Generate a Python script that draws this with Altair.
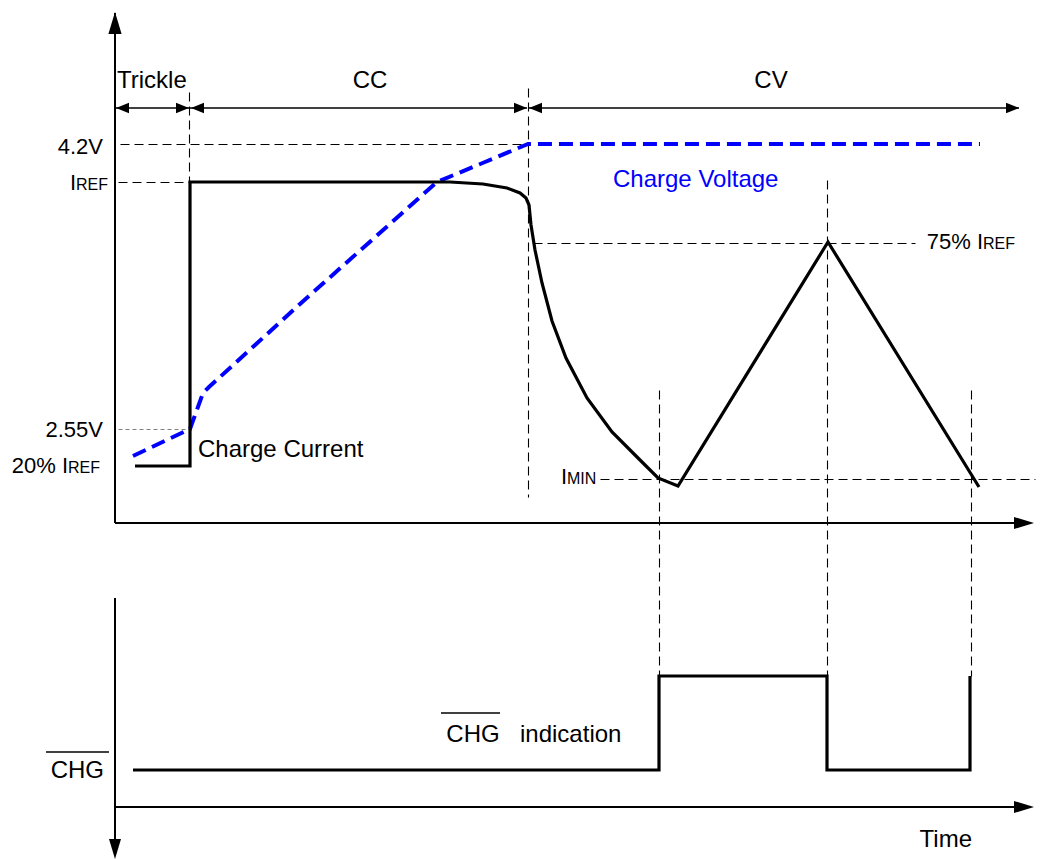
import altair as alt
import pandas as pd

FONT = "Liberation Sans"

# Diagram coordinate frame (units = reference pixels)
X_DOMAIN = [8, 1041]
Y_DOMAIN = [8, 851]

# Charge current (black solid)
cur_x = [135, 190, 190, 450, 483, 507, 520, 526, 529, 531, 535, 542, 552, 566, 587, 612, 640, 658, 678, 828, 979]
cur_y = [466, 466, 182, 182, 184, 188, 193, 198, 205, 225, 250, 283, 321, 358, 398, 432, 460, 478, 486, 242, 487]

# Charge voltage (blue dashed)
volt_x = [133, 190, 203, 209, 300, 437, 485, 528, 980]
volt_y = [456, 429, 393, 387, 304, 182, 162, 144, 144]

# CHG indication (black solid)
chg_x = [133, 659, 659, 827, 827, 970, 970]
chg_y = [770, 770, 676, 676, 770, 770, 676]

# Solid axis / phase lines: x1, y1, x2, y2, width
solid_x1 = [115, 115, 115, 115, 115, 190, 529, 46, 441]
solid_y1 = [13, 523, 598, 807, 108, 108, 108, 752, 713]
solid_x2 = [115, 1020, 115, 1020, 189, 527, 1019, 109, 500]
solid_y2 = [523, 523, 845, 807, 108, 108, 108, 752, 713]
solid_w = [2, 2, 2, 2, 1.5, 1.5, 1.5, 1.3, 1.3]

# Dashed guide lines (black)
dash_x1 = [120, 118, 533, 600, 189, 528, 659, 827, 971]
dash_y1 = [144, 182, 243, 479, 92, 88, 390, 180, 390]
dash_x2 = [528, 189, 915, 1035, 189, 528, 659, 827, 971]
dash_y2 = [144, 182, 243, 479, 182, 497, 676, 676, 676]

# Dashed guide (grey, 2.55V)
gdash_x1 = [118]
gdash_y1 = [429]
gdash_x2 = [189]
gdash_y2 = [429]

# Arrow heads
ARROW_R = "M0,0L-1,-0.4L-1,0.4Z"
ARROW_L = "M0,0L1,-0.4L1,0.4Z"
AXIS_R = "M0,0L-1,-0.3L-1,0.3Z"
AXIS_U = "M0,0L-0.3,1L0.3,1Z"
AXIS_D = "M0,0L-0.3,-1L0.3,-1Z"
arrow_x = [189, 527, 1019, 116, 191, 529, 1034, 1034, 115, 115]
arrow_y = [108, 108, 108, 108, 108, 108, 523, 807, 12, 859]
arrow_shape = [ARROW_R, ARROW_R, ARROW_R, ARROW_L, ARROW_L, ARROW_L, AXIS_R, AXIS_R, AXIS_U, AXIS_D]
arrow_size = [676, 676, 676, 676, 676, 676, 1600, 1600, 1936, 1600]

# Text labels
left_text = ["Trickle", "Charge Current", "Charge Voltage", "REF", "REF", "MIN", "REF", "indication"]
left_x = [117, 198, 613, 76, 68, 567, 983, 520]
left_y = [88, 457, 187, 190, 473, 484, 249, 742]
left_size = [24, 24, 24, 16, 16, 16, 16, 24]
left_color = ["black", "black", "#0000ff", "black", "black", "black", "black", "black"]

right_text = ["4.2V", "I", "2.55V", "20% I", "I", "75% I", "Time", "CHG"]
right_x = [103, 76, 103, 68, 567, 983, 972, 104]
right_y = [154, 190, 437, 473, 484, 249, 847, 778]
right_size = [22, 22, 22, 22, 22, 22, 24, 24]

center_text = ["CC", "CV", "CHG", "Figure 3. Typical Charge Profile"]
center_x = [370, 771, 473, 547]
center_y = [88, 88, 742, 873]
center_size = [24, 24, 24, 17]

xs = alt.Scale(domain=X_DOMAIN, nice=False, zero=False)
ys = alt.Scale(domain=Y_DOMAIN, nice=False, zero=False, reverse=True)


def X(f="x"):
    return alt.X(f"{f}:Q", scale=xs, axis=None)


def Y(f="y"):
    return alt.Y(f"{f}:Q", scale=ys, axis=None)


def path_df(xv, yv):
    return pd.DataFrame({"x": xv, "y": yv, "i": list(range(len(xv)))})


solid = pd.DataFrame({"x": solid_x1, "y": solid_y1, "x2": solid_x2, "y2": solid_y2, "w": solid_w})
dashed = pd.DataFrame({"x": dash_x1, "y": dash_y1, "x2": dash_x2, "y2": dash_y2})
gdashed = pd.DataFrame({"x": gdash_x1, "y": gdash_y1, "x2": gdash_x2, "y2": gdash_y2})
arrows = pd.DataFrame({"x": arrow_x, "y": arrow_y, "shape": arrow_shape, "size": arrow_size})
ltxt = pd.DataFrame({"x": left_x, "y": left_y, "t": left_text, "s": left_size, "c": left_color})
rtxt = pd.DataFrame({"x": right_x, "y": right_y, "t": right_text, "s": right_size})
ctxt = pd.DataFrame({"x": center_x, "y": center_y, "t": center_text, "s": center_size})

# half-pixel shift so that 1px dashed guides render crisp
crisp = dict(cx="datum.x + 0.5", cy="datum.y + 0.5", cx2="datum.x2 + 0.5", cy2="datum.y2 + 0.5")

solid_layer = alt.Chart(solid).mark_rule(color="black").encode(
    x=X(), y=Y(), x2="x2:Q", y2="y2:Q", strokeWidth=alt.StrokeWidth("w:Q", scale=None)
)
dash_layer = alt.Chart(dashed).transform_calculate(**crisp).mark_rule(
    color="black", strokeWidth=1.1, strokeDash=[9, 5]
).encode(x=X("cx"), y=Y("cy"), x2="cx2:Q", y2="cy2:Q")
gdash_layer = alt.Chart(gdashed).transform_calculate(**crisp).mark_rule(
    color="#808080", strokeWidth=1, strokeDash=[4, 3]
).encode(x=X("cx"), y=Y("cy"), x2="cx2:Q", y2="cy2:Q")
volt_layer = alt.Chart(path_df(volt_x, volt_y)).mark_line(
    color="#0000ff", strokeWidth=4, strokeDash=[14, 7]
).encode(x=X(), y=Y(), order="i:Q")
cur_layer = alt.Chart(path_df(cur_x, cur_y)).mark_line(
    color="black", strokeWidth=3.2, strokeJoin="miter"
).encode(x=X(), y=Y(), order="i:Q")
chg_layer = alt.Chart(path_df(chg_x, chg_y)).mark_line(
    color="black", strokeWidth=3.2, strokeJoin="miter"
).encode(x=X(), y=Y(), order="i:Q")
arrow_layer = alt.Chart(arrows).mark_point(filled=True, color="black", opacity=1, strokeWidth=0).encode(
    x=X(), y=Y(),
    shape=alt.Shape("shape:N", scale=None),
    size=alt.Size("size:Q", scale=None),
)
ltxt_layer = alt.Chart(ltxt).mark_text(align="left", baseline="alphabetic", font=FONT).encode(
    x=X(), y=Y(), text="t:N", size=alt.Size("s:Q", scale=None), color=alt.Color("c:N", scale=None)
)
rtxt_layer = alt.Chart(rtxt).mark_text(align="right", baseline="alphabetic", font=FONT, color="black").encode(
    x=X(), y=Y(), text="t:N", size=alt.Size("s:Q", scale=None)
)
ctxt_layer = alt.Chart(ctxt).mark_text(align="center", baseline="alphabetic", font=FONT, color="black").encode(
    x=X(), y=Y(), text="t:N", size=alt.Size("s:Q", scale=None)
)

chart = alt.layer(
    dash_layer, gdash_layer, solid_layer, volt_layer, cur_layer, chg_layer,
    arrow_layer, ltxt_layer, rtxt_layer, ctxt_layer
).properties(
    width=1033, height=843,
    background="white",
    autosize=alt.AutoSizeParams(type="none"),
    padding={"left": 0, "top": 0, "right": 0, "bottom": 8},
).configure_view(stroke=None)

chart.save("out.html", embed_options={"renderer": "svg", "actions": False})
